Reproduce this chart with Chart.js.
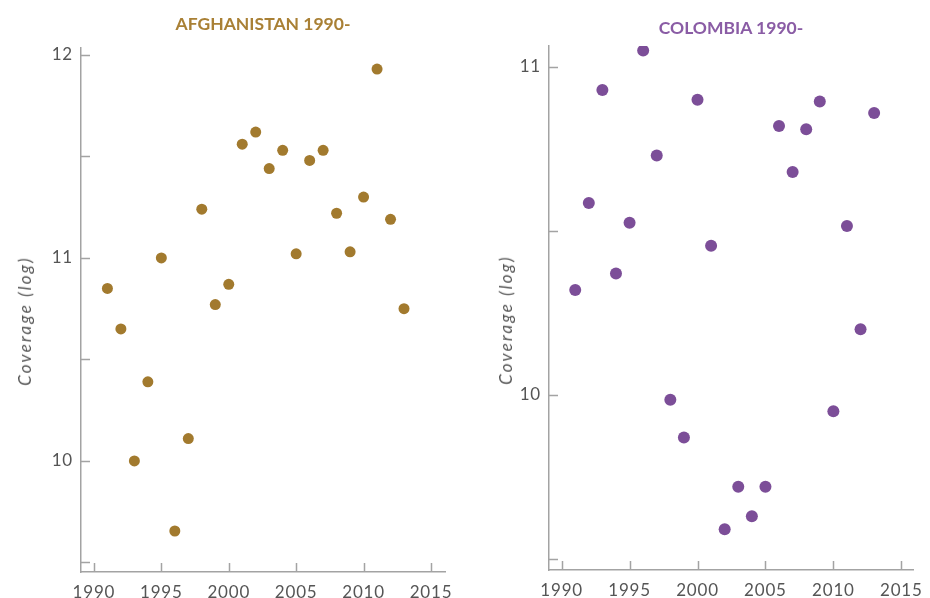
<!DOCTYPE html>
<html>
<head>
<meta charset="utf-8">
<script src="https://cdn.jsdelivr.net/npm/chart.js@4.4.0/dist/chart.umd.min.js"></script>
<style>
  html, body { margin: 0; padding: 0; background: #fff; }
  body { width: 930px; height: 598px; position: relative; overflow: hidden; font-family: Lato, sans-serif; }
  .panel { position: absolute; top: 0; width: 465px; height: 598px; }
  .ttl { position: absolute; font: 700 17.5px Lato, sans-serif; white-space: nowrap; transform: translateX(-50%); line-height: 21px; }
  .ytl { position: absolute; font: italic 17px Lato, sans-serif; color: #555; letter-spacing: 2.2px; white-space: nowrap;
         transform: translate(-50%, -50%) rotate(-90deg); line-height: 20px; }
</style>
</head>
<body>
<div class="panel" style="left:0"><canvas id="afgChart" width="465" height="598"></canvas></div>
<div class="panel" style="left:465px"><canvas id="colChart" width="465" height="598"></canvas></div>
<div class="ttl" style="left:263px; top:13px; color:#a98035">AFGHANISTAN 1990-</div>
<div class="ttl" style="left:731px; top:17px; color:#8a5ca5">COLOMBIA 1990-</div>
<div class="ytl" style="left:25px; top:321px">Coverage (log)</div>
<div class="ytl" style="left:506px; top:320px">Coverage (log)</div>
<script>
// ===== Coverage scatter, 1991-2013 =====
const years = [1991, 1992, 1993, 1994, 1995, 1996, 1997, 1998, 1999, 2000, 2001, 2002,
               2003, 2004, 2005, 2006, 2007, 2008, 2009, 2010, 2011, 2012, 2013];

const afghanistan = [10.85, 10.65, 10.00, 10.39, 11.00, 9.655, 10.11, 11.24, 10.77, 10.87, 11.56, 11.62,
                     11.44, 11.53, 11.02, 11.48, 11.53, 11.22, 11.03, 11.30, 11.93, 11.19, 10.75];

const colombia = [10.32, 10.585, 10.93, 10.37, 10.525, 11.05, 10.73, 9.985, 9.87, 10.90, 10.455, 9.59,
                  9.72, 9.63, 9.72, 10.82, 10.68, 10.81, 10.895, 9.95, 10.515, 10.20, 10.86];

const xTicks = [1990, 1995, 2000, 2005, 2010, 2015];

const AXIS = '#a3a3a3';
const LABEL = '#555';

// inward tick marks, drawn from the scales' own ticks
const innerTicks = {
    id: 'innerTicks',
    beforeLayout(chart) { chart.ctx.letterSpacing = '0.8px'; },
    beforeDraw(chart) { chart.ctx.letterSpacing = '0.8px'; },
    afterDraw(chart) {
        const { ctx, chartArea, scales } = chart;
        ctx.save();
        ctx.strokeStyle = AXIS;
        ctx.lineWidth = 1.5;
        ctx.beginPath();
        scales.x.ticks.forEach(t => {
            const px = Math.round(scales.x.getPixelForValue(t.value)) + 0.5;
            ctx.moveTo(px, chartArea.bottom);
            ctx.lineTo(px, chartArea.bottom - 9);
        });
        scales.y.ticks.forEach(t => {
            const py = Math.round(scales.y.getPixelForValue(t.value)) + 0.5;
            ctx.moveTo(chartArea.left, py);
            ctx.lineTo(chartArea.left + 9, py);
        });
        ctx.stroke();
        ctx.restore();
    }
};

function makeChart(id, values, color, radius, cfg) {
    return new Chart(document.getElementById(id), {
        type: 'scatter',
        data: {
            datasets: [{
                data: years.map((y, i) => ({ x: y, y: values[i] })),
                backgroundColor: color,
                borderWidth: 0,
                pointRadius: radius,
                pointHoverRadius: radius
            }]
        },
        options: {
            responsive: false,
            animation: false,
            layout: { padding: { top: cfg.top, right: cfg.right, bottom: 0, left: 0 } },
            plugins: { legend: { display: false }, tooltip: { enabled: false } },
            scales: {
                x: {
                    type: 'linear',
                    min: cfg.xMin, max: cfg.xMax,
                    afterBuildTicks: s => { s.ticks = xTicks.map(v => ({ value: v })); },
                    ticks: { color: LABEL, font: { family: 'Lato', size: 17 }, padding: 10, callback: v => String(v), maxRotation: 0 },
                    grid: { display: false, drawTicks: false },
                    border: { color: AXIS, width: 1.5 },
                    afterFit: s => { s.height = cfg.xH; s.paddingLeft = 0; s.paddingRight = 0; }
                },
                y: {
                    min: cfg.yMin, max: cfg.yMax,
                    ticks: {
                        stepSize: 0.5, includeBounds: false,
                        color: LABEL, font: { family: 'Lato', size: 17 }, padding: 8,
                        callback: v => Math.abs(v - Math.round(v)) < 1e-6 ? String(Math.round(v)) : ''
                    },
                    grid: { display: false, drawTicks: false },
                    border: { color: AXIS, width: 1.5 },
                    afterFit: s => { s.width = cfg.yW; s.paddingTop = 0; s.paddingBottom = 0; }
                }
            }
        },
        plugins: [innerTicks]
    });
}

makeChart('afgChart', afghanistan, '#a27a2e', 5.5, {
    top: 48, right: 20, xH: 26, yW: 81,
    xMin: 1989.04, xMax: 2016.04, yMin: 9.453, yMax: 12.034
});

makeChart('colChart', colombia, '#7c4e98', 6, {
    top: 46, right: 17, xH: 28, yW: 84,
    xMin: 1989.07, xMax: 2015.86, yMin: 9.466, yMax: 11.064
});
</script>
</body>
</html>
